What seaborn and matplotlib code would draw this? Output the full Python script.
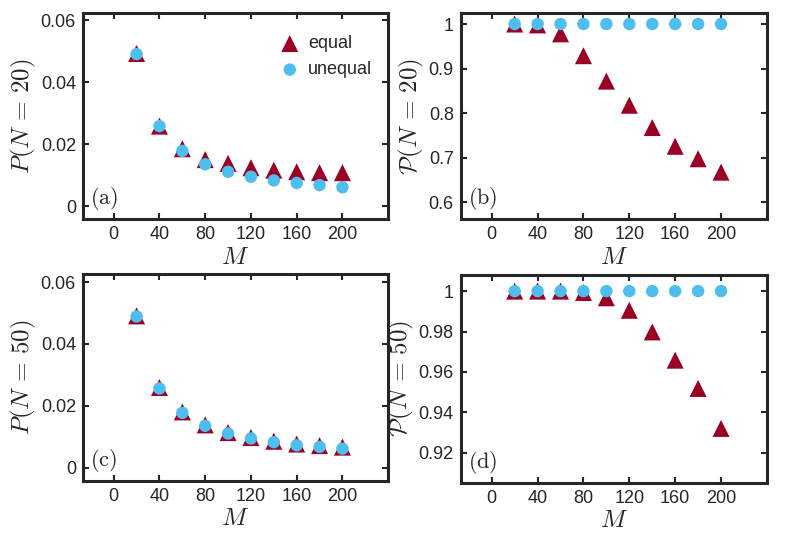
import numpy as np
import pandas as pd
import seaborn as sns
import matplotlib.pyplot as plt

# -------------------------------------------------------------------------
# Probability vs M for equal / unequal cases, N = 20 and N = 50
# -------------------------------------------------------------------------

M = [20, 40, 60, 80, 100, 120, 140, 160, 180, 200]

# panel (a): P(N=20)
p20_equal = [0.0492, 0.0258, 0.0185, 0.0150, 0.0138, 0.0124, 0.0116, 0.0111, 0.0108, 0.0108]
p20_unequal = [0.0490, 0.0258, 0.0178, 0.0135, 0.0111, 0.0095, 0.0083, 0.0075, 0.0068, 0.0061]

# panel (b): calP(N=20)
c20_equal = [1.000, 0.998, 0.978, 0.929, 0.872, 0.818, 0.768, 0.726, 0.698, 0.668]
c20_unequal = [1.0] * 10

# panel (c): P(N=50)
p50_equal = [0.0491, 0.0259, 0.0180, 0.0138, 0.0113, 0.0097, 0.0085, 0.0076, 0.0071, 0.0066]
p50_unequal = [0.0489, 0.0256, 0.0177, 0.0135, 0.0110, 0.0094, 0.0082, 0.0072, 0.0067, 0.0061]

# panel (d): calP(N=50)
c50_equal = [1.000, 1.000, 1.000, 0.9993, 0.9967, 0.9905, 0.9798, 0.9658, 0.9518, 0.9320]
c50_unequal = [1.0] * 10

sns.set_style("white")
plt.rcParams['font.family'] = ['Liberation Sans', 'DejaVu Sans']
plt.rcParams['mathtext.fontset'] = 'cm'

red = '#990024'
blue = '#4DBEEE'
dark = '#262626'

fig = plt.figure(figsize=(7.89, 5.36), dpi=100)
ax_a = fig.add_axes([0.105, 0.591, 0.387, 0.385])
ax_b = fig.add_axes([0.584, 0.591, 0.388, 0.385])
ax_c = fig.add_axes([0.105, 0.103, 0.387, 0.386])
ax_d = fig.add_axes([0.584, 0.099, 0.388, 0.388])

panels = [
    (ax_a, p20_equal, p20_unequal, r'$P(N\,=\,20)$', 'a', (-0.0042, 0.0623),
     [0, 0.02, 0.04, 0.06], ['0', '0.02', '0.04', '0.06']),
    (ax_b, c20_equal, c20_unequal, r'$\mathcal{P}(N\,=\,20)$', 'b', (0.5625, 1.025),
     [0.6, 0.7, 0.8, 0.9, 1.0], ['0.6', '0.7', '0.8', '0.9', '1']),
    (ax_c, p50_equal, p50_unequal, r'$P(N\,=\,50)$', 'c', (-0.0043, 0.0627),
     [0, 0.02, 0.04, 0.06], ['0', '0.02', '0.04', '0.06']),
    (ax_d, c50_equal, c50_unequal, r'$\mathcal{P}(N\,=\,50)$', 'd', (0.905, 1.008),
     [0.92, 0.94, 0.96, 0.98, 1.0], ['0.92', '0.94', '0.96', '0.98', '1']),
]

for ax, eq, uneq, ylab, tag, ylim, yt, ytl in panels:
    df = pd.DataFrame({'M': M, 'equal': eq, 'unequal': uneq})
    sns.scatterplot(data=df, x='M', y='equal', ax=ax, marker='^', s=150,
                    color=red, edgecolor='none', label='equal')
    sns.scatterplot(data=df, x='M', y='unequal', ax=ax, marker='o', s=80,
                    color=blue, edgecolor='none', label='unequal')
    ax.set_xlim(-27, 240)
    ax.set_ylim(*ylim)
    ax.set_xticks([0, 40, 80, 120, 160, 200])
    ax.set_yticks(yt)
    ax.set_yticklabels(ytl)
    ax.tick_params(direction='in', length=4, width=1.5, color=dark,
                   labelsize=13, labelcolor=dark, top=True, right=True,
                   bottom=True, left=True, pad=5)
    for sp in ax.spines.values():
        sp.set_linewidth(2.2)
        sp.set_color(dark)
        sp.set_visible(True)
    ax.set_xlabel(r'$M$', fontsize=18, color=dark, labelpad=1)
    ax.set_ylabel(ylab, fontsize=18, color=dark, labelpad=2)
    ax.text(0.025, 0.035, r'$\mathrm{(' + tag + ')}$', transform=ax.transAxes,
            fontsize=16, color=dark, ha='left', va='bottom')
    if ax is ax_a:
        ax.legend(loc='upper right', bbox_to_anchor=(1.0, 0.97), frameon=False,
                  fontsize=13, handlelength=1.0, handletextpad=0.5,
                  borderaxespad=0.5, labelspacing=0.5, markerscale=1.0)
    else:
        ax.get_legend().remove()

fig.savefig('out.png', dpi=100)
